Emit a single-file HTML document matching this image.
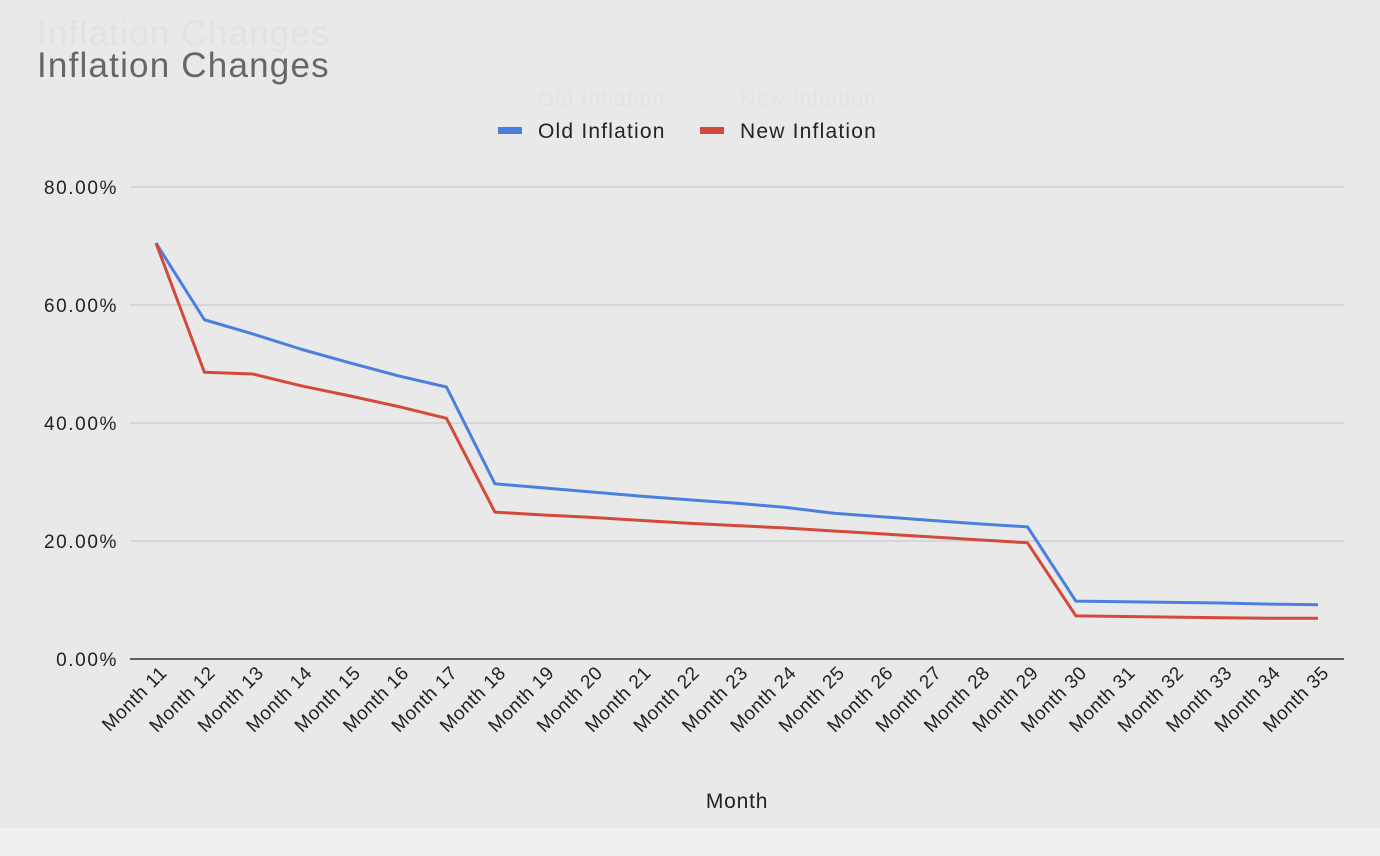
<!DOCTYPE html>
<html><head><meta charset="utf-8"><style>
body{margin:0;background:#e9e9e9;}
svg{display:block;font-family:"Liberation Sans",sans-serif;}
</style></head><body>
<svg width="1380" height="856">
<rect x="0" y="0" width="1380" height="828" fill="#e9e9e9"/>
<rect x="0" y="828" width="1380" height="28" fill="#efefef"/>
<text x="37" y="45" font-size="35" letter-spacing="1.2" fill="#e2e2e2">Inflation Changes</text>
<text x="37" y="77" font-size="35" letter-spacing="1.2" fill="#666">Inflation Changes</text>
<g fill="#e3e3e3" font-size="21" letter-spacing="1.2">
<text x="538" y="106">Old Inflation</text><text x="740" y="106">New Inflation</text>
</g>
<g id="legend">
<rect x="498" y="127" width="24" height="7" fill="#4a7fe0"/>
<text x="538" y="138" font-size="21" letter-spacing="1.2" fill="#222">Old Inflation</text>
<rect x="700" y="127" width="24" height="7" fill="#d44a3a"/>
<text x="740" y="138" font-size="21" letter-spacing="1.2" fill="#222">New Inflation</text>
</g>
<g id="grid"></g><g id="series"></g><g id="xlabels"></g>
<text x="737" y="808" font-size="21" letter-spacing="0.8" text-anchor="middle" fill="#222">Month</text>
</svg>
<script>
const months=[11,12,13,14,15,16,17,18,19,20,21,22,23,24,25,26,27,28,29,30,31,32,33,34,35];
const oldInflation=[70.5,57.5,55.1,52.5,50.2,48.0,46.1,29.7,29.0,28.3,27.6,27.0,26.4,25.7,24.7,24.1,23.5,22.9,22.4,9.8,9.7,9.6,9.5,9.3,9.2];
const newInflation=[70.5,48.6,48.3,46.3,44.6,42.8,40.8,24.9,24.4,24.0,23.5,23.0,22.6,22.2,21.7,21.2,20.7,20.2,19.7,7.3,7.2,7.1,7.0,6.9,6.9];
const yTicks=[0,20,40,60,80];
const NS="http://www.w3.org/2000/svg";
const x=i=>156+i*(1318-156)/(months.length-1);
const y=v=>659-v*(659-187)/80;
function mk(t,a,p){const e=document.createElementNS(NS,t);for(const k in a)e.setAttribute(k,a[k]);p.appendChild(e);return e;}
const grid=document.getElementById('grid');
yTicks.forEach(v=>{
 const l=mk('line',{x1:130,x2:1344,y1:y(v),y2:y(v),stroke:v===0?'#333':'#c4c4c4','stroke-width':v===0?1.5:1},grid);
 
 
 const t=mk('text',{x:118,y:y(v)+7,'font-size':19,'letter-spacing':1.6,'text-anchor':'end',fill:'#222'},grid);
 t.textContent=v.toFixed(2)+'%';
 
 
});
const s=document.getElementById('series');
[[oldInflation,'#4a7fe0','old-inflation-line'],[newInflation,'#d44a3a','new-inflation-line']].forEach(([d,c,n])=>{
 const p=mk('polyline',{points:d.map((v,i)=>x(i)+','+y(v)).join(' '),fill:'none',stroke:c,'stroke-width':3,'stroke-linejoin':'round'},s);
 
 
});
const xl=document.getElementById('xlabels');
months.forEach((m,i)=>{
 const t=mk('text',{x:x(i)+12,y:674,'font-size':19,'letter-spacing':0.6,'text-anchor':'end',fill:'#222',transform:`rotate(-45 ${x(i)+12} 674)`},xl);
 t.textContent='Month '+m;
 
 
});
</script>
</body></html>
